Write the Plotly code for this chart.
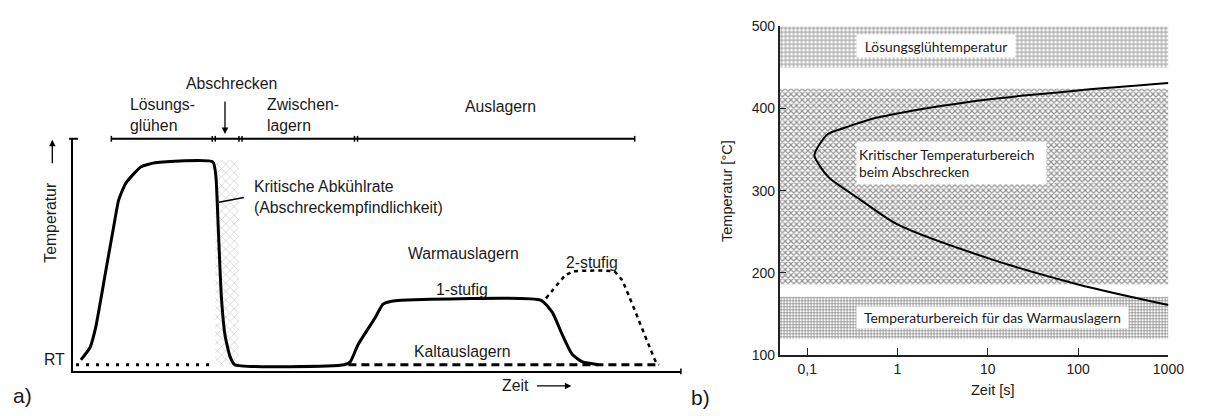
import math
import plotly.graph_objects as go

W, H = 1214, 416

# ---------------- a) schematic heat treatment (arbitrary units 0-100) ----------------
main_t = [1.3, 2.8, 3.7, 5.4, 6.7, 7.5, 8.6, 9.9, 11.2, 13.5,
          23.0, 23.5, 23.9, 24.4, 25.0, 25.8, 26.6,
          44.6, 45.6, 46.9, 49.7, 51.0, 52.4, 54.0,
          77.0, 78.9, 80.5, 82.1, 83.8, 86.5]
main_T = [5.0, 10.3, 18.6, 43.4, 62.4, 73.6, 80.6, 84.7, 88.0, 89.7,
          90.1, 83.9, 61.2, 32.2, 15.7, 6.6, 2.9,
          2.9, 4.1, 11.6, 23.1, 28.9, 30.2, 30.6,
          30.6, 25.2, 15.7, 7.4, 4.1, 2.9]
two_t = [77.8, 81.0, 82.3, 89.0, 90.3, 95.9, 96.4]
two_T = [31.4, 41.3, 43.0, 43.0, 39.3, 4.1, 2.9]
rt_t = [0.5, 23.4]
rt_T = [2.9, 2.9]
kalt_t = [45.3, 96.4]
kalt_T = [2.9, 2.9]
strip_t = [23.4, 27.3]
strip_T = [2.9, 90.9]
phase_edges = [6.3, 22.9, 23.4, 27.3, 27.8, 46.3, 46.8, 92.4]

# ---------------- b) critical cooling C-curve ----------------
cc_time = [1000, 100, 10, 3, 1, 0.6, 0.34, 0.25, 0.17, 0.14, 0.12,
           0.14, 0.174, 0.4, 1, 10, 100, 1000]
cc_temp = [431, 422, 411, 403, 394, 389, 381, 376, 369, 358, 343,
           329, 316, 288, 259, 218, 186, 161]
band_labels = ["Lösungsglühtemperatur",
               "Kritischer Temperaturbereich<br>beim Abschrecken",
               "Temperaturbereich für das Warmauslagern"]
band_lo = [450, 186, 120]
band_hi = [500, 424, 171]
band_label_T = [476, 334, 145.5]
xticks_b = [0.1, 1, 10, 100, 1000]
xticktext_b = ["0,1", "1", "10", "100", "1000"]
yticks_b = [100, 200, 300, 400, 500]


def px(x):
    return x / W


def py(y):
    return 1 - y / H


# ---------------- layout geometry ----------------
A_XDOM = [px(74), px(690)]
A_YDOM = [py(378), py(136)]
A_XR = [0, 100]
A_YR = [0, 100]
B_XDOM = [px(790), px(1184)]
B_YDOM = [py(361), py(19)]
B_XR = [-1.306, 3]
B_YR = [100, 500]


def apx(t):
    return A_XDOM[0] + (t - A_XR[0]) / (A_XR[1] - A_XR[0]) * (A_XDOM[1] - A_XDOM[0])


def apy(T):
    return A_YDOM[0] + (T - A_YR[0]) / (A_YR[1] - A_YR[0]) * (A_YDOM[1] - A_YDOM[0])


fig = go.Figure()

# hatched critical strip
fig.add_trace(go.Scatter(
    x=[strip_t[0], strip_t[1], strip_t[1], strip_t[0], strip_t[0]],
    y=[strip_T[0], strip_T[0], strip_T[1], strip_T[1], strip_T[0]],
    fill="toself", mode="lines", line=dict(width=0), fillcolor="white",
    fillpattern=dict(shape="x", fgcolor="#999999", bgcolor="white", size=6, solidity=0.22),
    xaxis="x", yaxis="y", hoverinfo="skip"))
fig.add_trace(go.Scatter(x=rt_t, y=rt_T, mode="lines",
                         line=dict(color="black", width=3, dash="3px,7px"), xaxis="x", yaxis="y"))
fig.add_trace(go.Scatter(x=kalt_t, y=kalt_T, mode="lines",
                         line=dict(color="black", width=3, dash="8px,5px"), xaxis="x", yaxis="y"))
fig.add_trace(go.Scatter(x=two_t, y=two_T, mode="lines",
                         line=dict(color="black", width=2.5, dash="4px,4px", shape="spline", smoothing=0.4),
                         xaxis="x", yaxis="y"))
fig.add_trace(go.Scatter(x=main_t, y=main_T, mode="lines",
                         line=dict(color="black", width=3, shape="spline", smoothing=0.5),
                         xaxis="x", yaxis="y"))

# bands in b)
x_left = 10 ** B_XR[0]
x_right = 10 ** B_XR[1]
band_pat = [dict(shape="+", fgcolor="#111111", bgcolor="white", size=4, solidity=0.38),
            dict(shape="x", fgcolor="#222222", bgcolor="white", size=4, solidity=0.5),
            dict(shape="+", fgcolor="#111111", bgcolor="white", size=3, solidity=0.45)]
for lo, hi, pat in zip(band_lo, band_hi, band_pat):
    fig.add_trace(go.Scatter(
        x=[x_left, x_right, x_right, x_left, x_left],
        y=[lo, lo, hi, hi, lo],
        fill="toself", mode="lines", line=dict(width=0), fillcolor="white",
        fillpattern=pat, xaxis="x2", yaxis="y2", hoverinfo="skip"))
fig.add_trace(go.Scatter(x=cc_time, y=cc_temp, mode="lines",
                         line=dict(color="black", width=2, shape="spline", smoothing=0.8),
                         xaxis="x2", yaxis="y2"))

# ---------------- annotations ----------------
ann = []
TXT = "#1a1a1a"
FS = 15.8


def A(text, x, y, size=FS, xanchor="center", yanchor="middle", align="center", **kw):
    ann.append(dict(text=text, x=x, y=y, xref="paper", yref="paper", showarrow=False,
                    xanchor=xanchor, yanchor=yanchor, align=align,
                    font=dict(size=size, color=TXT, family="Liberation Sans, Arial"), **kw))


A("Abschrecken", apx(26.1), apy(123.6))
A("Lösungs-<br>glühen", apx(9.1), apy(110.3), xanchor="left", align="left")
A("Zwischen-<br>lagern", apx(31.5), apy(110.3), xanchor="left", align="left")
A("Auslagern", apx(70.3), apy(114.0))
A("Kritische Abkühlrate<br>(Abschreckempfindlichkeit)", apx(29.4), apy(74.8),
  xanchor="left", align="left")
A("Warmauslagern", apx(64.3), apy(50.8))
A("2-stufig", apx(85.4), apy(46.7))
A("1-stufig", apx(64.0), apy(35.1))
A("Kaltauslagern", apx(64.0), apy(8.7))
A("RT", px(55), py(366))
A("Temperatur", px(51), py(223), textangle=-90)
A("Zeit", px(522), py(393))
A("a)", px(23), py(403), size=21)
A("b)", px(710), py(405), size=21)
A("Temperatur [°C]", px(736), py(190), size=14.5, textangle=-90)
A("Zeit [s]", px(1006), py(397), size=14.5)

# arrows
for (hx, hy, axo, ayo) in [(apx(25.0), apy(102.1), 0, -34),
                           (px(53), py(137), 0, 25),
                           (px(579), py(393), -36, 0)]:
    ann.append(dict(text="", x=hx, y=hy, xref="paper", yref="paper", showarrow=True,
                    ax=axo, ay=ayo, arrowhead=2, arrowsize=1, arrowwidth=1.3,
                    arrowcolor="black"))

# text boxes in b)
box_w = [154, 185, 267]
box_h = [18, 38, 17]
box_align = ["center", "left", "center"]
for lbl, T, bw, bh, al in zip(band_labels, band_label_T, box_w, box_h, box_align):
    ann.append(dict(text=lbl, x=math.log10(0.344), y=T, xref="x2", yref="y2",
                    showarrow=False, xanchor="left", yanchor="middle", align=al,
                    width=bw, height=bh, bgcolor="white", borderpad=2,
                    font=dict(size=13.8, color=TXT, family="Lato, Open Sans, sans-serif")))

# ---------------- shapes (axis decorations, timeline) ----------------
shapes = []
LC = "black"
ty = apy(100)
shapes.append(dict(type="line", xref="paper", yref="paper", x0=apx(phase_edges[0]), x1=apx(phase_edges[-1]),
                   y0=ty, y1=ty, line=dict(color=LC, width=2)))
tick_h = 3 / H
for e in phase_edges:
    shapes.append(dict(type="line", xref="paper", yref="paper", x0=apx(e), x1=apx(e),
                       y0=ty - tick_h, y1=ty + tick_h, line=dict(color=LC, width=1.5)))
shapes.append(dict(type="line", xref="paper", yref="paper", x0=px(70), x1=px(79),
                   y0=apy(100), y1=apy(100), line=dict(color=LC, width=2)))
shapes.append(dict(type="line", xref="paper", yref="paper", x0=apx(100), x1=apx(100),
                   y0=apy(0) - tick_h, y1=apy(0) + tick_h, line=dict(color=LC, width=1.5)))
shapes.append(dict(type="line", xref="paper", yref="paper", x0=apx(24.0), x1=apx(28.1),
                   y0=apy(72.7), y1=apy(74.8), line=dict(color=LC, width=1.5)))

fig.update_layout(
    width=W, height=H, margin=dict(l=0, r=0, t=0, b=0),
    paper_bgcolor="white", plot_bgcolor="rgba(0,0,0,0)",
    showlegend=False, hovermode=False,
    font=dict(family="Liberation Sans, Arial", size=14, color=TXT),
    xaxis=dict(domain=A_XDOM, range=A_XR, showline=True, linecolor="black", linewidth=2,
               showgrid=False, zeroline=False, showticklabels=False, ticks="", anchor="y"),
    yaxis=dict(domain=A_YDOM, range=A_YR, showline=True, linecolor="black", linewidth=2,
               showgrid=False, zeroline=False, showticklabels=False, ticks="", anchor="x"),
    xaxis2=dict(domain=B_XDOM, range=B_XR, type="log", showline=True, linecolor="#222",
                linewidth=1.5, showgrid=False, zeroline=False, ticks="inside", ticklen=7,
                tickwidth=1, tickcolor="#222", tickvals=xticks_b, ticktext=xticktext_b,
                tickfont=dict(size=14, color="#222"), anchor="y2"),
    yaxis2=dict(domain=B_YDOM, range=B_YR, showline=True, linecolor="#222", linewidth=1.5,
                showgrid=False, zeroline=False, ticks="inside", ticklen=7, tickwidth=1,
                tickcolor="#222", tickvals=yticks_b, tickfont=dict(size=14, color="#222"),
                anchor="x2"),
    annotations=ann, shapes=shapes,
)

fig.write_html("out.html")
